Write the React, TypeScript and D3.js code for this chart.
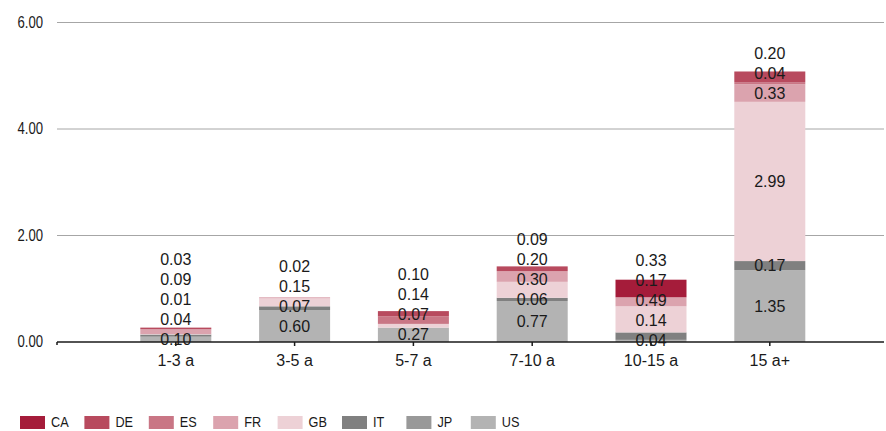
import React from 'react';
import * as d3 from 'd3';

const categories = ['1-3 a', '3-5 a', '5-7 a', '7-10 a', '10-15 a', '15 a+'];
const seriesNames = ['US', 'JP', 'IT', 'GB', 'FR', 'ES', 'DE', 'CA'];
const US = [0.10, 0.60, 0.27, 0.77, 0.04, 1.35];
const JP = [0, 0, 0, 0, 0, 0];
const IT = [0.04, 0.07, 0, 0.06, 0.14, 0.17];
const GB = [0.01, 0.15, 0.07, 0.30, 0.49, 2.99];
const FR = [0.09, 0.02, 0, 0.20, 0.17, 0.33];
const ES = [0, 0, 0.14, 0, 0, 0.04];
const DE = [0.03, 0, 0.10, 0.09, 0, 0.20];
const CA = [0, 0, 0, 0, 0.33, 0];
const yTicks = [0, 2, 4, 6];
const legendOrder = ['CA', 'DE', 'ES', 'FR', 'GB', 'IT', 'JP', 'US'];

const colors: Record<string, string> = {
  CA: '#a51c3a', DE: '#b84a5e', ES: '#c97685', FR: '#dba3ae',
  GB: '#edd1d6', IT: '#808080', JP: '#999999', US: '#b3b3b3',
};

const W = 886, H = 431;
const left = 57, right = 884;
// no narrow font installed, so squeeze Arial horizontally
const narrow = 0.82;

const App = () => {
  const valuesByName: Record<string, number[]> = { US, JP, IT, GB, FR, ES, DE, CA };
  const rows = categories.map((c, i) => {
    const r: any = { cat: c };
    seriesNames.forEach(s => { r[s] = valuesByName[s][i]; });
    return r;
  });
  const stacked = d3.stack().keys(seriesNames)(rows);

  const x = d3.scaleLinear().domain([0, 7]).range([left, left + 7 * 118.8]);
  const y = d3.scaleLinear().domain([0, 6]).range([342, 22.5]);
  const barW = 71;

  // labels: centred in segment, pushed up to avoid overlap
  const labels: { x: number; y: number; t: string }[] = [];
  categories.forEach((c, i) => {
    let prev = Infinity;
    stacked.forEach(layer => {
      const [a, b] = layer[i];
      if (b - a <= 0) return;
      const mid = y((a + b) / 2);
      const pos = Math.min(mid, prev - 20);
      prev = pos;
      labels.push({ x: x(i + 1), y: pos, t: d3.format('.2f')(b - a) });
    });
  });

  return (
    <svg width={W} height={H} style={{ position: 'absolute', left: 0, top: 0 }}
      fontFamily="Arial, 'Liberation Sans', sans-serif">
      <rect width={W} height={H} fill="#fff" />
      {yTicks.filter(t => t > 0).map(t => (
        <line key={t} x1={left} x2={right} y1={y(t)} y2={y(t)} stroke="#a6a6a6" strokeWidth={1} />
      ))}
      {yTicks.map(t => (
        <text key={t} transform={`translate(43,${y(t)}) scale(${narrow},1)`} textAnchor="end"
          dominantBaseline="central" fontSize={16} fill="#1a1a1a">{d3.format('.2f')(t)}</text>
      ))}
      {stacked.map(layer => (
        <g key={layer.key} fill={colors[layer.key]}>
          {layer.map((d, i) => d[1] - d[0] > 0 ? (
            <rect key={i} x={x(i + 1) - barW / 2} width={barW} y={y(d[1])} height={y(d[0]) - y(d[1])} />
          ) : null)}
        </g>
      ))}
      <line x1={left} x2={right} y1={y(0)} y2={y(0)} stroke="#1a1a1a" strokeWidth={1.5} />
      <line x1={left} x2={left} y1={y(0)} y2={y(0) + 3} stroke="#1a1a1a" strokeWidth={1.5} />
      {categories.map((c, i) => (
        <g key={c}>
          <line x1={x(i + 1)} x2={x(i + 1)} y1={y(0)} y2={y(0) + 4} stroke="#1a1a1a" strokeWidth={1.5} />
          <text x={x(i + 1)} y={360} textAnchor="middle" dominantBaseline="central"
            fontSize={16} fill="#1a1a1a">{c}</text>
        </g>
      ))}
      {labels.map((l, k) => (
        <text key={k} x={l.x} y={l.y} textAnchor="middle" dominantBaseline="central"
          fontSize={16} fill="#1a1a1a">{l.t}</text>
      ))}
      {legendOrder.map((s, i) => {
        const lx = 20 + i * 64.4;
        return (
          <g key={s}>
            <rect x={lx} y={416} width={25} height={13} fill={colors[s]} />
            <text transform={`translate(${lx + 31},422) scale(${narrow},1)`} dominantBaseline="central"
              fontSize={15.5} fill="#1a1a1a">{s}</text>
          </g>
        );
      })}
    </svg>
  );
};

export default App;
